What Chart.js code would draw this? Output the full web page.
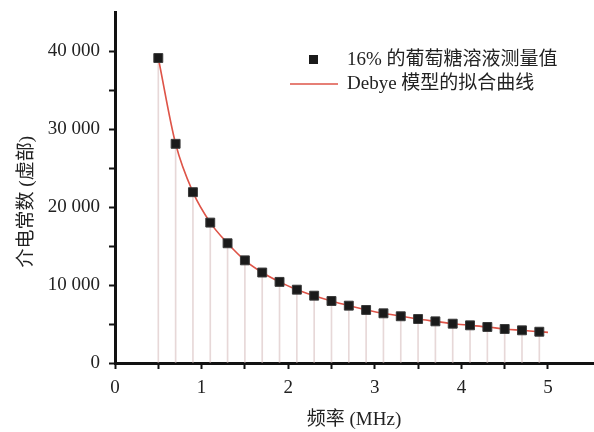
<!DOCTYPE html>
<html><head><meta charset="utf-8">
<script src="https://cdn.jsdelivr.net/npm/chart.js@4/dist/chart.umd.min.js"></script>
<style>html,body{margin:0;padding:0;background:#fff}#wrap{width:594px;height:432px}</style>
</head><body><div id="wrap"><canvas id="c" width="594" height="432"></canvas></div>
<script>
const freqMHz = [0.5,0.7,0.9,1.1,1.3,1.5,1.7,1.9,2.1,2.3,2.5,2.7,2.9,3.1,3.3,3.5,3.7,3.9,4.1,4.3,4.5,4.7,4.9];
const measured = [39100,28100,21900,18000,15350,13160,11600,10400,9400,8630,7950,7350,6800,6370,5990,5640,5340,5040,4830,4620,4360,4190,4010];
const fitFreq = [0.5,0.7,0.9,1.1,1.3,1.5,1.7,1.9,2.1,2.3,2.5,2.7,2.9,3.1,3.3,3.5,3.7,3.9,4.1,4.3,4.5,4.7,4.9,5.0];
const fitVals = [39100,28100,21900,18000,15350,13160,11600,10400,9400,8630,7950,7350,6800,6370,5990,5640,5340,5040,4830,4620,4360,4190,4010,3930];
const seriesNames = ['16% 的葡萄糖溶液测量值','Debye 模型的拟合曲线'];
const xTitle = '频率 (MHz)';
const yTitle = '介电常数 (虚部)';

const FONT = "'Liberation Serif','Noto Sans CJK SC',serif";
const TXT = '#222';

const legendPlugin = {
  id: 'fixedLegend',
  afterDraw(chart) {
    const ctx = chart.ctx;
    ctx.save();
    ctx.font = '19px ' + FONT;
    ctx.textBaseline = 'middle';
    ctx.textAlign = 'left';
    ctx.fillStyle = '#1a1a1a';
    ctx.fillRect(309, 55, 9, 9);
    ctx.fillStyle = TXT;
    ctx.fillText(seriesNames[0], 347, 60);
    ctx.strokeStyle = 'rgb(222,84,72)';
    ctx.lineWidth = 1.5;
    ctx.beginPath(); ctx.moveTo(290, 84); ctx.lineTo(338, 84); ctx.stroke();
    ctx.fillText(seriesNames[1], 347, 84);
    ctx.restore();
  }
};

function fmt(v){ return String(v).replace(/\B(?=(\d{3})+(?!\d))/g, ' '); }

new Chart(document.getElementById('c'), {
  type: 'scatter',
  data: {
    datasets: [
      {
        type: 'scatter',
        label: seriesNames[0],
        data: freqMHz.map((x,i)=>({x, y: measured[i]})),
        pointStyle: 'rect',
        pointRadius: 6.3,
        backgroundColor: '#1a1a1a',
        borderColor: '#3a3a3a',
        borderWidth: 1,
        order: 0
      },
      {
        type: 'line',
        label: seriesNames[1],
        data: fitFreq.map((x,i)=>({x, y: fitVals[i]})),
        borderColor: 'rgb(222,84,72)',
        borderWidth: 1.6,
        pointRadius: 0,
        fill: false,
        cubicInterpolationMode: 'monotone',
        order: 1
      },
      {
        type: 'bar',
        label: 'drop',
        data: freqMHz.map((x,i)=>({x, y: measured[i]})),
        barThickness: 1,
        backgroundColor: 'rgba(215,190,190,0.6)',
        borderWidth: 0,
        order: 2
      }
    ]
  },
  options: {
    responsive: false,
    animation: false,
    devicePixelRatio: 1,
    layout: { autoPadding: false, padding: { top: 12, right: 1, left: 0, bottom: 0 } },
    plugins: { legend: { display: false }, tooltip: { enabled: false } },
    scales: {
      x: {
        type: 'linear',
        min: 0, max: 5.52,
        offset: false,
        afterFit(s){ s.height = 69; s.paddingLeft = 0; s.paddingRight = 0; },
        afterBuildTicks(s){ s.ticks = s.ticks.filter(t => t.value <= 5.001); },
        ticks: {
          stepSize: 0.5, includeBounds: false, autoSkip: false, maxRotation: 0,
          color: TXT, font: { family: FONT, size: 19 }, padding: 8,
          callback: v => (Math.abs(v - Math.round(v)) < 1e-6 ? String(Math.round(v)) : '')
        },
        grid: { drawOnChartArea: false, drawTicks: true, tickLength: 6, tickColor: '#111', tickWidth: 2, offset: false },
        border: { display: true, color: '#111', width: 3 },
        title: { display: true, text: xTitle, color: TXT, font: { family: FONT, size: 19 }, padding: { top: 0, bottom: 1 } }
      },
      y: {
        type: 'linear',
        min: 0, max: 45000,
        afterFit(s){ s.width = 115; s.paddingTop = 0; s.paddingBottom = 0; },
        afterBuildTicks(s){ s.ticks = s.ticks.filter(t => t.value <= 40000); },
        ticks: {
          stepSize: 5000, autoSkip: false,
          color: TXT, font: { family: FONT, size: 19 }, padding: 9,
          callback: v => (v % 10000 === 0 ? fmt(v) : '')
        },
        grid: { drawOnChartArea: false, drawTicks: true, tickLength: 6, tickColor: '#111', tickWidth: 2 },
        border: { display: true, color: '#111', width: 3 },
        title: { display: true, text: yTitle + '\u00a0\u00a0\u00a0\u00a0\u00a0\u00a0', color: TXT, font: { family: FONT, size: 19 }, padding: { top: 16, bottom: 0 } }
      }
    }
  },
  plugins: [legendPlugin]
});
</script>
</body></html>
